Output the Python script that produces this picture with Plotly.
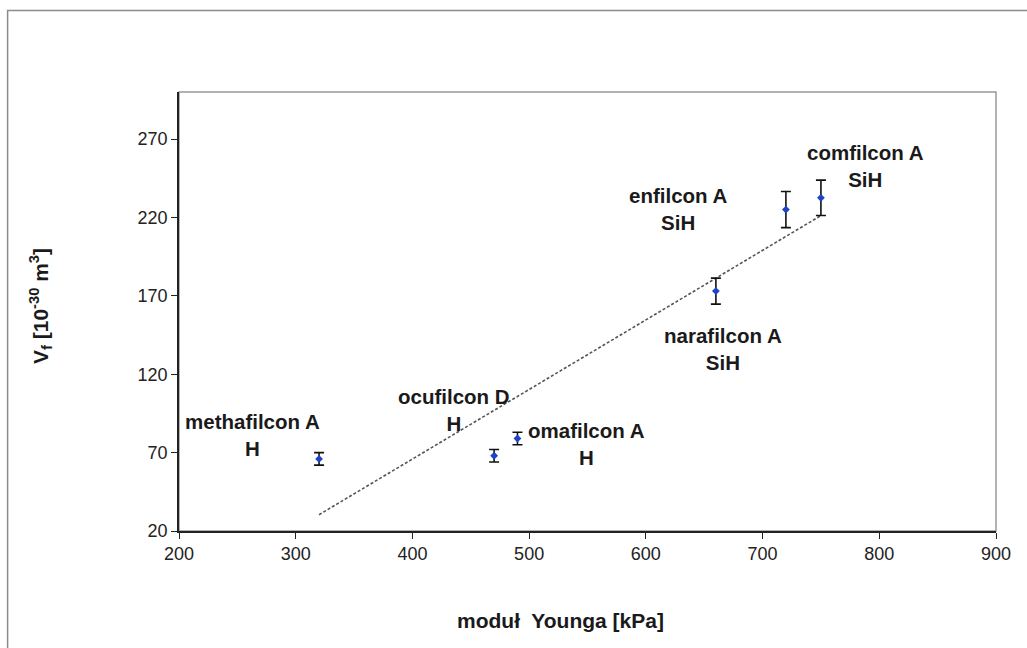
import numpy as np
import plotly.graph_objects as go

# Young's modulus [kPa] and free volume V_f [10^-30 m^3] of contact lens materials
materials = ["methafilcon A", "ocufilcon D", "omafilcon A", "narafilcon A", "enfilcon A", "comfilcon A"]
material_type = ["H", "H", "H", "SiH", "SiH", "SiH"]
modulus = [320, 470, 490, 660, 720, 750]
free_volume = [66, 68, 79, 173, 225, 232.5]
free_volume_err = [4, 4, 4, 8.3, 11.5, 11.3]

# label anchor points (data coordinates) for each material
label_x = [263, 436, 549, 666, 628, 788]
label_y = [81.5, 97.4, 75.2, 136.2, 225.3, 252.9]

x_ticks = [200, 300, 400, 500, 600, 700, 800, 900]
y_ticks = [20, 70, 120, 170, 220, 270]

TICK_FONT = "Liberation Sans Narrow, Arial Narrow, Liberation Sans, Arial, sans-serif"
LABEL_FONT = "Liberation Sans, Arial, sans-serif"

# page and plot-area geometry in pixels
W, H = 1027, 648
L, R, T, B = 178.5, 31, 91.5, 117.3
pw, ph = W - L - R, H - T - B


def px_to_paper(px, py):
    return (px - L) / pw, (H - B - py) / ph


fig = go.Figure()

# linear trend line fitted to the measurements
slope, intercept = np.polyfit(modulus, free_volume, 1)
trend_x = np.array([min(modulus), max(modulus)])
fig.add_trace(go.Scatter(
    x=trend_x, y=slope * trend_x + intercept, mode="lines",
    line=dict(color="#555555", width=1.6, dash="3px,2px"),
    hoverinfo="skip", showlegend=False,
))

# measured points with error bars
fig.add_trace(go.Scatter(
    x=modulus, y=free_volume, mode="markers",
    marker=dict(symbol="diamond", size=6, color="#1f44c8"),
    error_y=dict(type="data", array=free_volume_err, visible=True,
                 color="#111111", thickness=1.6, width=5),
    showlegend=False,
))

for name, kind, lx, ly in zip(materials, material_type, label_x, label_y):
    fig.add_annotation(
        x=lx, y=ly, xref="x", yref="y", showarrow=False,
        xanchor="center", yanchor="middle",
        text=f"<b>{name}</b><br><b>{kind}</b>", align="center",
        font=dict(family=LABEL_FONT, size=20.5, color="#1a1a1a"),
    )

# axis titles
tx, ty = px_to_paper(560, 620)
fig.add_annotation(
    x=tx, y=ty, xref="paper", yref="paper", showarrow=False,
    xanchor="center", yanchor="middle",
    text="<b>moduł  Younga [kPa]</b>",
    font=dict(family=TICK_FONT, size=21, color="#1a1a1a"),
)
vx, vy = px_to_paper(40, 306)
fig.add_annotation(
    text="<b>V<sub>f</sub> [10<sup>-30</sup> m<sup>3</sup>]</b>",
    xref="paper", yref="paper", x=vx, y=vy, textangle=-90, showarrow=False,
    xanchor="center", yanchor="middle",
    font=dict(family=LABEL_FONT, size=21, color="#1a1a1a"),
)

# outer chart frame and plot-area border
fx0, fy0 = px_to_paper(7, 700)
fx1, fy1 = px_to_paper(1040, 10)
fig.add_shape(type="rect", xref="paper", yref="paper", layer="below",
              x0=fx0, x1=fx1, y0=fy0, y1=fy1,
              line=dict(color="#8c8c8c", width=1.5))
fig.add_shape(type="rect", xref="paper", yref="paper", layer="below",
              x0=0, x1=1, y0=0, y1=1,
              line=dict(color="#999999", width=1.5))

fig.update_layout(
    width=W, height=H,
    margin=dict(l=L, r=R, t=T, b=B, pad=0),
    plot_bgcolor="white", paper_bgcolor="white",
    xaxis=dict(range=[200, 900], tickvals=x_ticks, showgrid=False, zeroline=False,
               showline=True, linecolor="#222222", linewidth=1.5,
               ticks="outside", ticklen=6, tickcolor="#222222", tickwidth=1.2,
               tickfont=dict(family=TICK_FONT, size=18, color="#222222")),
    yaxis=dict(range=[20, 300], tickvals=y_ticks, showgrid=False, zeroline=False,
               showline=True, linecolor="#222222", linewidth=1.5,
               ticks="outside", ticklen=6, tickcolor="#222222", tickwidth=1.2,
               tickfont=dict(family=TICK_FONT, size=18, color="#222222")),
)

fig.write_html("out.html")
